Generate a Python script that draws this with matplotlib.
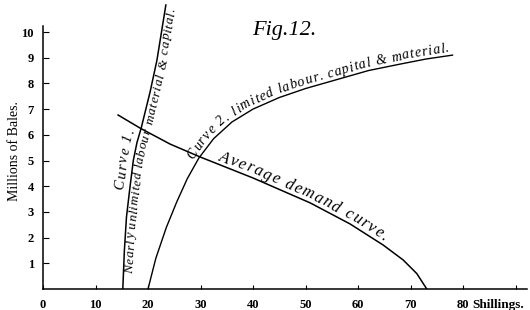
import numpy as np
import matplotlib
matplotlib.use('Agg')
from matplotlib import pyplot as plt
from matplotlib.transforms import IdentityTransform

# values (shillings, millions of bales)
curve1_x = [15.2, 15.5, 15.9, 16.5, 17.2, 17.9, 18.7, 20.4, 21.7, 23.4]
curve1_y = [0, 1.5, 2.8, 3.85, 5.0, 5.7, 6.26, 7.67, 8.9, 11.05]
curve2_x = [20.0, 21.5, 23.5, 25.5, 27.5, 29.7, 32.5, 36.0, 40.0, 45.0, 50.0, 56.0, 62.0, 68.0, 73.0, 78.0]
curve2_y = [0, 1.2, 2.4, 3.4, 4.3, 5.1, 5.85, 6.5, 7.0, 7.45, 7.8, 8.15, 8.5, 8.75, 8.95, 9.1]
demand_x = [14.3, 18.5, 24.2, 29.9, 40.0, 50.9, 58.5, 64.8, 68.6, 71.2, 73.1]
demand_y = [6.77, 6.26, 5.64, 5.14, 4.32, 3.35, 2.53, 1.71, 1.13, 0.6, 0]

x_ticks = [0, 10, 20, 30, 40, 50, 60, 70, 80, 90]
x_labels = ['0', '10', '20', '30', '40', '50', '60', '70', '80', '']
y_ticks = [1, 2, 3, 4, 5, 6, 7, 8, 9, 10]

SERIF = 'Liberation Serif'

fig = plt.figure(figsize=(5.3, 3.1), dpi=100)
ax = fig.add_axes([43 / 530, 21 / 310, 484 / 530, 288 / 310])
ax.set_xlim(0, 484 / 5.25)
ax.set_ylim(0, 288 / 25.7)

for s in ['top', 'right']:
    ax.spines[s].set_visible(False)
ax.spines['left'].set_bounds(0, 10.25)
ax.spines['left'].set_linewidth(1.1)
ax.spines['bottom'].set_linewidth(1.1)

ax.set_xticks(x_ticks)
ax.set_xticklabels(x_labels, family=SERIF, weight='bold', size=9)
ax.set_yticks(y_ticks)
ax.set_yticklabels([str(v) for v in y_ticks], family=SERIF, weight='bold', size=9)
ax.tick_params(axis='x', direction='in', length=3, width=0.8, pad=7)
ax.tick_params(axis='y', direction='in', length=4, width=0.8, pad=6.5)

ax.annotate('Shillings.', xy=(80, 0), xytext=(6.5, -7), textcoords='offset points',
            ha='left', va='top', family=SERIF, weight='bold', size=9.5)

ax.plot(curve1_x, curve1_y, color='black', lw=1.1)
ax.plot(curve2_x, curve2_y, color='black', lw=1.0)
ax.plot(demand_x, demand_y, color='black', lw=1.1)

fig.text(284 / 530, 1 - 31 / 310, 'Fig.12.', family=SERIF, style='italic',
         size=16, ha='center', va='center')
fig.text(15 / 530, 1 - 151 / 310, 'Millions of Bales.', family=SERIF,
         size=10, rotation=90, ha='center', va='center')

renderer = fig.canvas.get_renderer()


def text_along(xs, ys, s, p0, p1, offset, size, va='baseline'):
    pts = ax.transData.transform(np.column_stack([xs, ys]))
    d = np.hypot(*np.diff(pts, axis=0).T)
    arc = np.concatenate([[0], np.cumsum(d)])

    def at(a):
        return np.interp(a, arc, pts[:, 0]), np.interp(a, arc, pts[:, 1])

    fine = np.arange(0, arc[-1], 0.5)
    fx, fy = at(fine)

    def arc_of(p):
        px, py = ax.transData.transform(p)
        return fine[np.argmin((fx - px) ** 2 + (fy - py) ** 2)]

    props = dict(size=size, family=SERIF, style='italic')

    def width(t):
        tt = fig.text(0, 0, t, **props)
        w = tt.get_window_extent(renderer).width
        tt.remove()
        return w

    base = width('||')
    ws = [width('|' + c + '|') - base for c in s]
    a0, a1 = arc_of(p0), arc_of(p1)
    gap = (a1 - a0 - sum(ws)) / max(len(s) - 1, 1)
    a = a0
    for c, w in zip(s, ws):
        m = a + w / 2
        xa, ya = at(m - 7)
        xb, yb = at(m + 7)
        ang = np.arctan2(yb - ya, xb - xa)
        cx, cy = at(m)
        fig.text(cx - offset * np.sin(ang), cy + offset * np.cos(ang), c,
                 transform=IdentityTransform(), rotation=np.degrees(ang),
                 rotation_mode='anchor', ha='center', va=va, **props)
        a += w + gap


text_along(curve1_x, curve1_y, 'Curve 1.', (16.5, 3.85), (18.4, 6.1), 6, 10.5)
text_along(curve1_x, curve1_y, 'Nearly unlimited labour material & capital.',
           (15.35, 0.6), (23.3, 10.95), -1, 9.5, va='top')
text_along(curve2_x, curve2_y, 'Curve 2. limited labour. capital & material.',
           (29.2, 4.95), (77.5, 9.08), 4, 10)
text_along(demand_x, demand_y, 'Average demand curve.', (33.0, 4.85), (64.6, 1.75), 4, 12)

fig.savefig('out.png', dpi=100)
